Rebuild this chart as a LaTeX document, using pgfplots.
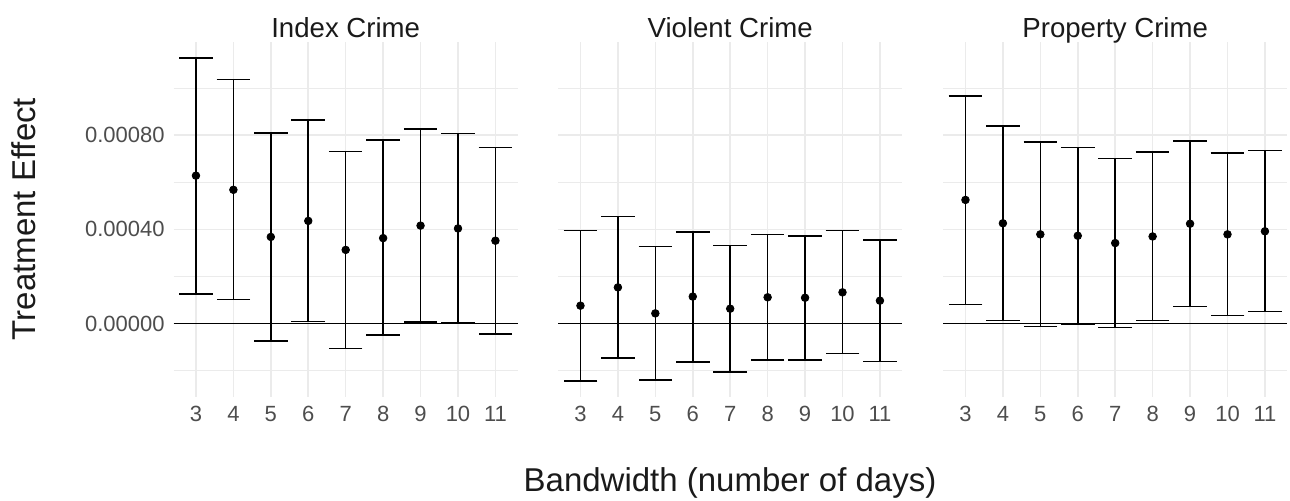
\documentclass[border=0pt]{standalone}
\usepackage{fontspec}
\setmainfont{Liberation Sans}
\usepackage{pgfplots}
\pgfplotsset{compat=1.18}
\usepackage{pgfplotstable}

\definecolor{gridc}{HTML}{EBEBEB}
\definecolor{tickc}{HTML}{4D4D4D}
\definecolor{titc}{HTML}{1A1A1A}

\pgfplotstableread{
x y lo hi
3 0.000628 0.000127 0.001128
4 0.000568 0.000103 0.001035
5 0.000368 -0.000074 0.000810
6 0.000436 0.0000085 0.000864
7 0.000313 -0.000105 0.000731
8 0.000363 -0.000048 0.000778
9 0.000416 0.000007 0.000826
10 0.000404 0.000004 0.000806
11 0.000352 -0.000044 0.000747
}\idx

\pgfplotstableread{
x y lo hi
3 0.0000764 -0.000243 0.000396
4 0.000154 -0.000146 0.000454
5 0.0000438 -0.000239 0.000327
6 0.000115 -0.000163 0.000390
7 0.0000636 -0.000206 0.000332
8 0.000112 -0.000154 0.000379
9 0.000110 -0.000154 0.000373
10 0.000133 -0.000126 0.000395
11 0.0000976 -0.000160 0.000354
}\vio

\pgfplotstableread{
x y lo hi
3 0.000525 0.000082 0.000966
4 0.000426 0.0000127 0.000839
5 0.000379 -0.0000127 0.000771
6 0.000373 -0.000004 0.000748
7 0.000342 -0.000017 0.000701
8 0.000370 0.0000141 0.000728
9 0.000424 0.0000735 0.000775
10 0.000379 0.000034 0.000725
11 0.000392 0.0000523 0.000734
}\prop

\pgfplotsset{
  panel/.style={
    scale only axis, anchor=south west,
    width=172.2pt, height=177.75pt,
    xmin=2.4, xmax=11.6,
    ymin=-0.000311, ymax=0.001197,
    axis line style={draw=none},
    major tick length=0pt, minor tick length=0pt,
    tick style={draw=none},
    xtick={3,4,5,6,7,8,9,10,11},
    xticklabels={3,4,5,6,7,8,9,10,11},
    ytick={0,0.0004,0.0008},
    minor ytick={-0.0002,0.0002,0.0006,0.0010},
    scaled y ticks=false,
    grid=both,
    major grid style={draw=gridc, line width=0.8pt},
    minor grid style={draw=gridc, line width=0.4pt},
    /pgf/number format/assume math mode=true,
    ticklabel style={font=\fontsize{11}{13}\selectfont, text=tickc, inner sep=0pt},
    xticklabel style={anchor=north, yshift=-4.5pt},
    yticklabel style={anchor=east, xshift=-4.25pt},
    clip=false,
  },
  ebar/.style={
    black, only marks, mark=*, mark size=1.9pt,
    error bars/.cd, y dir=both, y explicit,
    error mark=|,
    error mark options={black, line width=0.8pt, mark size=8.4pt},
    error bar style={black, line width=0.8pt},
  },
}

\begin{document}
\begin{tikzpicture}
\useasboundingbox (0,0) rectangle (645pt,250pt);

\begin{axis}[panel, at={(86.75pt,51.5pt)},
  yticklabels={0.00000,0.00040,0.00080}]
  \addplot[black, line width=0.7pt] coordinates {(2.4,0) (11.6,0)};
  \addplot[ebar] table[x=x, y=y,
    y error plus expr=\thisrow{hi}-\thisrow{y},
    y error minus expr=\thisrow{y}-\thisrow{lo}] {\idx};
\end{axis}

\begin{axis}[panel, at={(279pt,51.5pt)}, yticklabels={}]
  \addplot[black, line width=0.7pt] coordinates {(2.4,0) (11.6,0)};
  \addplot[ebar] table[x=x, y=y,
    y error plus expr=\thisrow{hi}-\thisrow{y},
    y error minus expr=\thisrow{y}-\thisrow{lo}] {\vio};
\end{axis}

\begin{axis}[panel, at={(471.5pt,51.5pt)}, yticklabels={}]
  \addplot[black, line width=0.7pt] coordinates {(2.4,0) (11.6,0)};
  \addplot[ebar] table[x=x, y=y,
    y error plus expr=\thisrow{hi}-\thisrow{y},
    y error minus expr=\thisrow{y}-\thisrow{lo}] {\prop};
\end{axis}

\begin{scope}[every node/.style={text=titc, inner sep=0pt}]
\node[anchor=base, font=\fontsize{13.8}{16}\selectfont] at (172.85pt,231.35pt) {Index Crime};
\node[anchor=base, font=\fontsize{13.8}{16}\selectfont] at (365.1pt,231.35pt) {Violent Crime};
\node[anchor=base, font=\fontsize{13.8}{16}\selectfont] at (557.6pt,231.35pt) {Property Crime};
\node[anchor=base, font=\fontsize{16.5}{19}\selectfont] at (365pt,4.5pt) {Bandwidth (number of days)};
\node[anchor=base, rotate=90, font=\fontsize{16.5}{19}\selectfont] at (17.5pt,140.5pt) {Treatment Effect};
\end{scope}
\end{tikzpicture}
\end{document}
